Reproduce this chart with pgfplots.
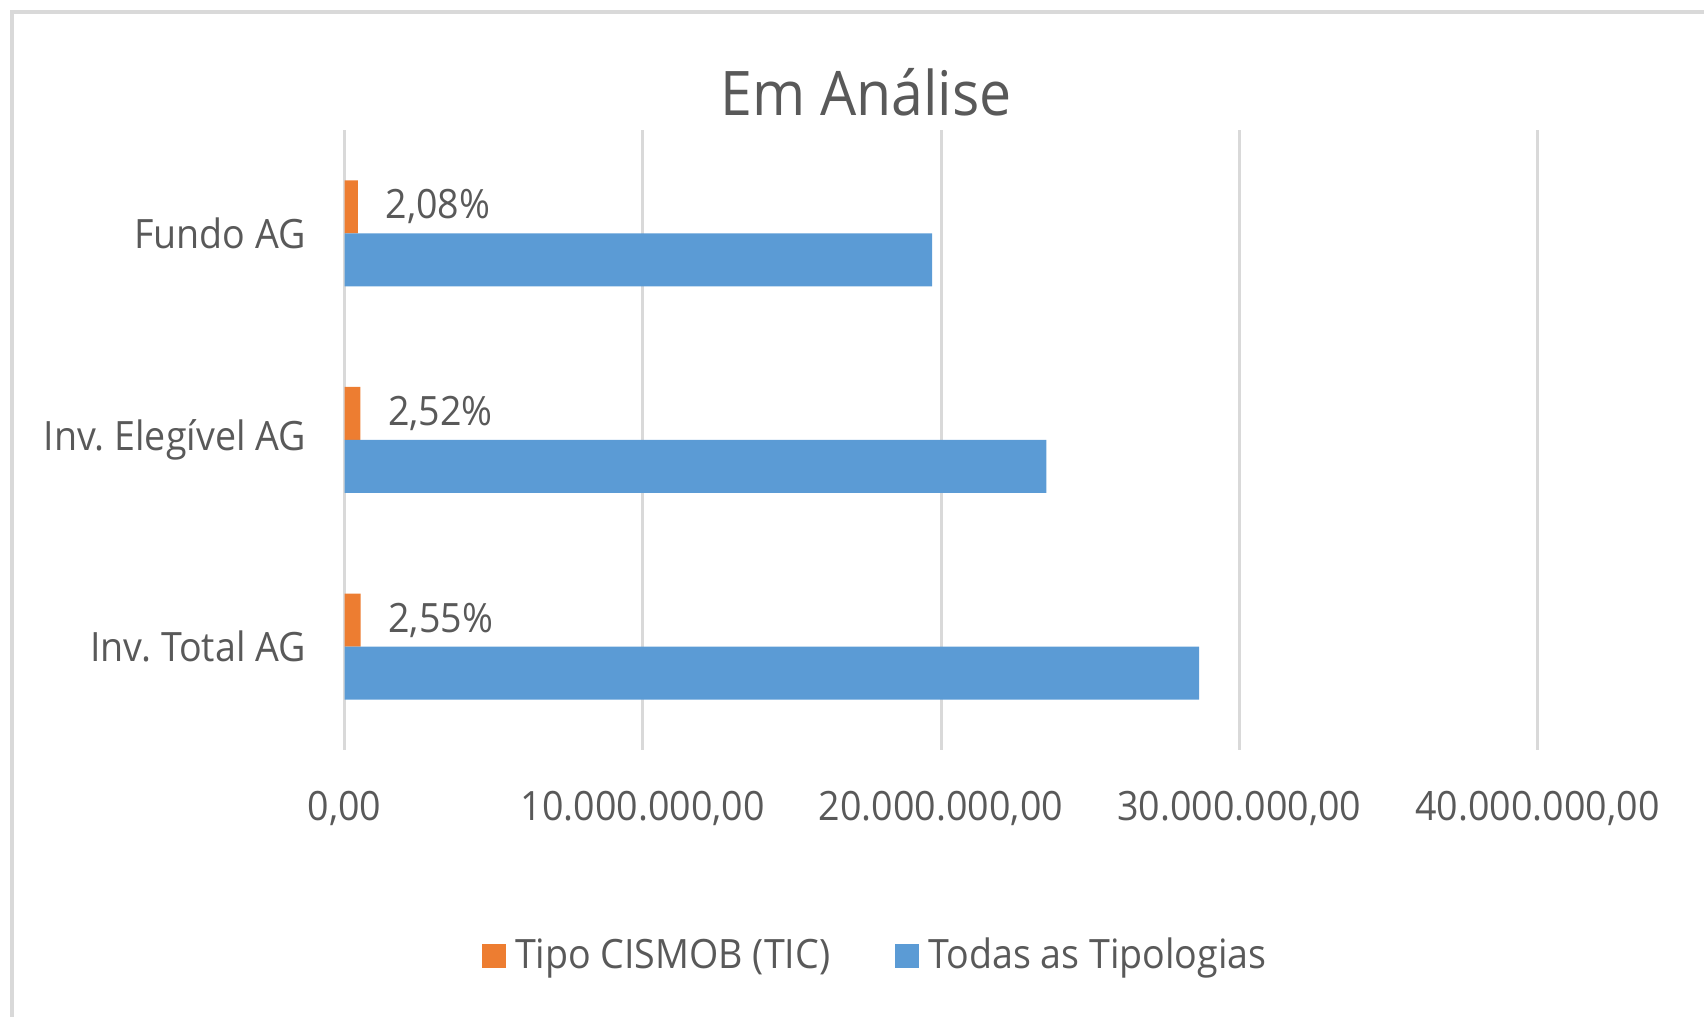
\documentclass[border=0pt]{standalone}
\usepackage{fontspec}
\setmainfont{Open Sans}[FakeStretch=0.93]
\usepackage{pgfplots}
\pgfplotsset{compat=1.18}
\definecolor{tic}{HTML}{ED7D31}
\definecolor{todas}{HTML}{5B9BD5}
\definecolor{txt}{HTML}{595959}
\definecolor{grd}{HTML}{D9D9D9}
\frenchspacing

\begin{document}
\begin{tikzpicture}[x=1cm,y=1cm]
\path[use as bounding box] (0,0) rectangle (17.04,10.17);
% chart frame (right and bottom edges fall outside the picture)
\draw[grd, line width=0.9pt] (0.12,0) -- (0.12,10.05) -- (17.04,10.05);
\node[txt, font=\fontsize{17.5}{21}\selectfont] at (8.66,9.25) {Em Análise};

\begin{axis}[
    at={(3.445cm,2.67cm)}, anchor=south west,
    scale only axis, width=11.93cm, height=6.2cm,
    xbar, bar width=0.53cm,
    xmin=0, xmax=40000000, ymin=-0.5, ymax=2.5,
    scaled x ticks=false,
    ytick={0,1,2},
    yticklabels={Inv. Total AG, Inv. Elegível AG, Fundo AG},
    xtick={0,10000000,20000000,30000000,40000000},
    xticklabels={{0,00},{10.000.000,00},{20.000.000,00},{30.000.000,00},{40.000.000,00}},
    xmajorgrids, grid style={grd, line width=0.85pt},
    axis line style={draw=none}, major tick style={draw=none},
    tick label style={txt, font=\fontsize{11.5}{14}\selectfont},
    xticklabel style={anchor=center, yshift=-0.58cm},
    yticklabel style={anchor=east, inner sep=0pt, xshift=-0.23cm},
    legend columns=2,
    legend style={at={(0.447,-0.332)}, anchor=center, draw=none,
        font=\fontsize{11.5}{14}\selectfont, text=txt,
        /tikz/every odd column/.append style={column sep=0.02cm},
        /tikz/every even column/.append style={column sep=0.58cm}},
    legend image code/.code={\fill[#1] (0cm,-0.12cm) rectangle (0.24cm,0.12cm);},
]
\addplot[fill=tic, draw=none, bar shift=0.265cm,
    point meta=explicit symbolic, nodes near coords,
    nodes near coords style={anchor=west, inner sep=0pt, xshift=0.27cm, txt,
        font=\fontsize{11.5}{14}\selectfont}]
coordinates {(540000,0) [2,55\%] (530000,1) [2,52\%] (450000,2) [2,08\%]};
\addlegendentry{Tipo CISMOB (TIC)}

\addplot[fill=todas, draw=none, bar shift=-0.265cm]
coordinates {(28650000,0) (23530000,1) (19700000,2)};
\addlegendentry{Todas as Tipologias}
\end{axis}
\end{tikzpicture}
\end{document}
